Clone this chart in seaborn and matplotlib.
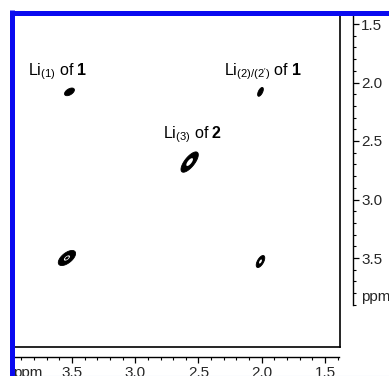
import numpy as np
import matplotlib
matplotlib.use("Agg")
import matplotlib.pyplot as plt
from matplotlib.lines import Line2D
from matplotlib.ticker import FixedLocator
import matplotlib.transforms as mtransforms
import seaborn as sns

# ---------------- data ----------------
peak_names = ["Li(1)", "Li(2)/(2')", "Li(3)", "cross-left", "cross-right"]
peak_x = [3.52, 2.01, 2.57, 3.54, 2.01]      # F2 (ppm)
peak_y = [2.08, 2.08, 2.68, 3.50, 3.53]      # F1 (ppm)

label_texts = [r"Li$_{(1)}$ of $\mathbf{1}$",
               r"Li$_{(2)/(2')}$ of $\mathbf{1}$",
               r"Li$_{(3)}$ of $\mathbf{2}$"]
label_x = [3.61, 1.99, 2.55]
label_y = [1.91, 1.91, 2.45]

x_ticks = [3.5, 3.0, 2.5, 2.0, 1.5]
y_ticks = [1.5, 2.0, 2.5, 3.0, 3.5]
tick_labels_x = ["3.5", "3.0", "2.5", "2.0", "1.5"]
tick_labels_y = ["1.5", "2.0", "2.5", "3.0", "3.5"]

# peak shape (style) parameters
peak_sx = [0.031, 0.018, 0.052, 0.052, 0.025]
peak_sy = [0.026, 0.030, 0.066, 0.049, 0.038]
peak_rho = [0.5, 0.6, 0.72, 0.6, 0.6]
peak_bands = [[(0.45, 10)], [(0.45, 10)], [(0.42, 0.88)],
              [(0.42, 0.9), (0.96, 10)], [(0.4, 0.9)]]

# ---------------- style ----------------
sns.set_theme(style="white")
plt.rcParams["font.family"] = ["Liberation Sans", "DejaVu Sans"]
plt.rcParams["mathtext.fontset"] = "custom"
plt.rcParams["mathtext.rm"] = "Liberation Sans"
plt.rcParams["mathtext.it"] = "Liberation Sans:italic"
plt.rcParams["mathtext.bf"] = "Liberation Sans:bold"

W, H = 389, 376
fig = plt.figure(figsize=(W / 100, H / 100), dpi=100)
fig.patch.set_facecolor("white")


def fr(l, t, r, b):
    return [l / W, 1 - b / H, (r - l) / W, (b - t) / H]


# pixel mapping: x: 3.5 ppm at px 72, 126.5 px/ppm ; y: 1.5 ppm at px 24, 117 px/ppm
def xppm(px):
    return 3.5 - (px - 72) / 126.5


def yppm(py):
    return 1.5 + (py - 24) / 117


ax = fig.add_axes(fr(12, 12, 340, 347))
XL = (xppm(12), xppm(340))
YL = (yppm(347), yppm(12))
ax.set_xlim(XL)
ax.set_ylim(YL)
ax.set_facecolor("white")
ax.set_xticks([])
ax.set_yticks([])
for s in ["left", "top"]:
    ax.spines[s].set_visible(False)
for s in ["right", "bottom"]:
    ax.spines[s].set_color("black")
    ax.spines[s].set_linewidth(1.2)

# contour peaks
gx = np.linspace(XL[1], XL[0], 900)
gy = np.linspace(YL[1], YL[0], 900)
GX, GY = np.meshgrid(gx, gy)
for px_, py_, sx, sy, rho, bands in zip(peak_x, peak_y, peak_sx, peak_sy,
                                         peak_rho, peak_bands):
    dx = (GX - px_) / sx
    dy = (GY - py_) / sy
    q = (dx ** 2 - 2 * rho * dx * dy + dy ** 2) / (1 - rho ** 2)
    Z = np.exp(-0.5 * q)
    for lo, hi in bands:
        ax.contourf(GX, GY, Z, levels=[lo, hi], colors="black", antialiased=True)
    ax.contour(GX, GY, Z, levels=[bands[0][0]], colors="black", linewidths=0.6)

for t, lx, ly in zip(label_texts, label_x, label_y):
    ax.text(lx, ly, t, ha="center", va="center", fontsize=11.5, color="black")

# blue frame lines (left & top)
blue = "#0a0af0"
fig.add_artist(Line2D([12 / W, 12 / W], [0, 1 - 10 / H], transform=fig.transFigure,
                      color=blue, lw=3.6, solid_capstyle="butt"))
fig.add_artist(Line2D([9.5 / W, 1], [1 - 12.5 / H, 1 - 12.5 / H], transform=fig.transFigure,
                      color=blue, lw=3.6, solid_capstyle="butt"))
fig.add_artist(Line2D([14 / W, 1], [1 - 375.5 / H, 1 - 375.5 / H], transform=fig.transFigure,
                      color="#c8d0f4", lw=0.8))

# bottom ruler
bax = fig.add_axes(fr(14, 330, 339, 357))
bax.patch.set_alpha(0)
bax.set_xlim(xppm(14), xppm(339))
bax.set_ylim(0, 1)
for s in ["left", "top", "right"]:
    bax.spines[s].set_visible(False)
bax.spines["bottom"].set_color("black")
bax.spines["bottom"].set_linewidth(1.0)
bax.set_yticks([])
bax.set_xticks(x_ticks)
bax.set_xticklabels(tick_labels_x)
bax.xaxis.set_minor_locator(FixedLocator(np.round(np.arange(1.4, 3.95, 0.1), 2)))
bax.tick_params(axis="x", which="major", direction="out", length=4, width=0.9,
                color="black", labelsize=11, pad=2.5, bottom=True)
bax.tick_params(axis="x", which="minor", direction="out", length=2, width=0.8,
                color="black", bottom=True)
bax.text(xppm(28), 0, "ppm", ha="center", va="top", fontsize=11,
         transform=bax.get_xaxis_transform() +
         mtransforms.ScaledTranslation(0, -(4 + 2.5) / 72, fig.dpi_scale_trans))

# right ruler
rax = fig.add_axes(fr(330, 12, 353, 347))
rax.patch.set_alpha(0)
rax.set_ylim(YL)
rax.set_xlim(0, 1)
for s in ["left", "top", "bottom"]:
    rax.spines[s].set_visible(False)
rax.spines["right"].set_color("black")
rax.spines["right"].set_linewidth(1.0)
rax.spines["right"].set_bounds(yppm(15), yppm(305))
rax.set_xticks([])
rax.yaxis.tick_right()
rax.set_yticks(y_ticks)
rax.set_yticklabels(tick_labels_y)
rax.yaxis.set_minor_locator(FixedLocator(np.round(np.arange(1.5, 3.95, 0.1), 2)))
rax.tick_params(axis="y", which="major", direction="out", length=4, width=0.9,
                color="black", labelsize=11, pad=2, right=True, left=False)
rax.tick_params(axis="y", which="minor", direction="out", length=2, width=0.8,
                color="black", right=True, left=False)
rax.text(1.0, yppm(297), "ppm", ha="left", va="center", fontsize=11,
         transform=rax.get_yaxis_transform() +
         mtransforms.ScaledTranslation(6 / 72, 0, fig.dpi_scale_trans))

fig.savefig("out.png", dpi=100, facecolor="white")
